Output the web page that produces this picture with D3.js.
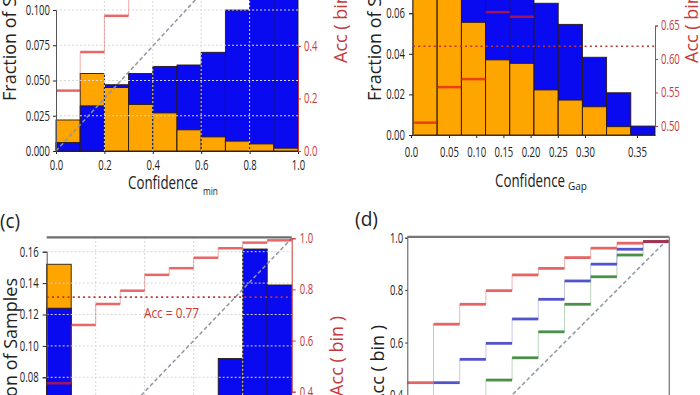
<!DOCTYPE html>
<html><head><meta charset="utf-8">
<script src="https://cdn.jsdelivr.net/npm/d3@7"></script>
<style>body{margin:0;background:#fff}svg{display:block}text{font-family:"Open Sans",sans-serif}</style>
</head><body><svg id="c" width="700" height="395"></svg>
<script>
// ---------- data ----------
const binIndex = [0,1,2,3,4,5,6,7,8,9];

const aXTicks = [0,0.2,0.4,0.6,0.8,1.0];
const aYTicks = [0,0.025,0.05,0.075,0.1,0.125];
const aRTicks = [0,0.2,0.4,0.6];
const aIncorrect = [0.022,0.055,0.045,0.033,0.027,0.015,0.010,0.007,0.005,0.002];
const aCorrect   = [0.006,0.032,0.047,0.055,0.060,0.061,0.070,0.100,0.118,0.125];
const aAcc       = [0.23,0.377,0.515,0.64,0.72,0.78,0.83,0.88,0.93,0.97];

const bXTickValues = [0,0.05,0.10,0.15,0.20,0.25,0.30,0.35];
const bXTickLabels = ["0.0","0.05","0.10","0.15","0.20","0.25","0.30","0.35"];
const bYTicks = [0,0.02,0.04,0.06,0.08];
const bRTicks = [0.50,0.55,0.60,0.65,0.70];
const bIncorrect = [0.075,0.072,0.0555,0.037,0.0353,0.0222,0.0172,0.0139,0.0041,0.0];
const bCorrect   = [0.085,0.080,0.078,0.075,0.070,0.0649,0.0545,0.0383,0.0208,0.0044];
const bAcc       = [0.505,0.558,0.570,0.670,0.663,0.70,0.72,0.74,0.76,0.78];
const bMeanAcc = 0.619;

const cYTicks = [0,0.02,0.04,0.06,0.08,0.10,0.12,0.14,0.16];
const cRTicks = [0,0.2,0.4,0.6,0.8,1.0];
const cXTicks = [0.2,0.4,0.6,0.8];
const cIncorrect = [0.152,0.020,0.015,0.012,0.010,0.008,0.006,0.005,0.003,0.001];
const cCorrect   = [0.124,0.040,0.035,0.040,0.045,0.050,0.060,0.092,0.1617,0.1388];
const cAcc       = [0.433,0.661,0.743,0.795,0.857,0.883,0.924,0.961,0.983,0.992];
const cMeanAcc = 0.77;

const dYTicks = [0,0.2,0.4,0.6,0.8,1.0];
const dAccRed   = [0.447,0.670,0.746,0.798,0.858,0.883,0.924,0.960,0.979,0.985];
const dAccBlue  = [0.36,0.447,0.536,0.597,0.690,0.765,0.835,0.899,0.956,0.985];
const dAccGreen = [0.20,0.28,0.36,0.457,0.542,0.641,0.746,0.851,0.934,0.985];

// ---------- styles ----------
const ORANGE = "#ffa500", BLUE = "#0a0af0";
const RED_TXT = "#c8393a";
const STEP_RED = "rgba(222,30,30,0.68)", STEP_RED_V = "rgba(225,80,80,0.45)";
const SQ = 0.68;

const svg = d3.select("#c");

function squish(sel, s){
  sel.each(function(){
    const t = d3.select(this);
    const x = +t.attr("x") || 0;
    t.attr("x", x / s).attr("transform", `scale(${s},1)`);
  });
}
function styleAxis(g, color, fs){
  g.selectAll("text").attr("fill", color).style("font-size", fs + "px");
  g.selectAll("line").attr("stroke", color);
  g.select(".domain").attr("stroke", color);
  squish(g.selectAll("text"), SQ);
}
function hText(x, y, str, size, color, len, anchor){
  const t = svg.append("text").attr("x", x).attr("y", y).text(str)
    .attr("fill", color).style("font-size", size + "px");
  if (len) t.attr("textLength", len).attr("lengthAdjust", "spacingAndGlyphs");
  if (anchor) t.attr("text-anchor", anchor);
  return t;
}
function vText(x, y, str, size, color, anchor){
  return svg.append("text").attr("transform", `translate(${x},${y}) rotate(-90)`)
    .attr("text-anchor", anchor).text(str).attr("fill", color).style("font-size", size + "px");
}
function overlapBars(g, edge, y, inc, cor){
  const rects = [];
  binIndex.forEach(i => {
    const pair = [{v: inc[i], c: ORANGE, i}, {v: cor[i], c: BLUE, i}].sort((a,b) => b.v - a.v);
    rects.push(...pair);
  });
  g.selectAll(null).data(rects.filter(d => d.v > 0)).join("rect")
    .attr("x", d => edge(d.i)).attr("width", d => edge(d.i + 1) - edge(d.i))
    .attr("y", d => y(d.v)).attr("height", d => y(0) - y(d.v))
    .attr("fill", d => d.c).attr("stroke", "#2a1a10").attr("stroke-width", 0.9);
}
function steps(g, edge, y, acc, color, vcolor, w){
  g.selectAll(null).data(acc).join("line")
    .attr("x1", (d,i) => edge(i)).attr("x2", (d,i) => edge(i + 1))
    .attr("y1", d => y(d)).attr("y2", d => y(d))
    .attr("stroke", color).attr("stroke-width", w);
  if (vcolor) g.selectAll(null).data(acc.slice(1)).join("line")
    .attr("x1", (d,i) => edge(i + 1)).attr("x2", (d,i) => edge(i + 1))
    .attr("y1", (d,i) => y(acc[i])).attr("y2", d => y(d))
    .attr("stroke", vcolor).attr("stroke-width", 1);
}
function diag(g, x, y){
  g.append("line").attr("x1", x(0)).attr("y1", y(0)).attr("x2", x(1)).attr("y2", y(1))
    .attr("stroke", "#8d96a3").attr("stroke-width", 1.5).attr("stroke-dasharray", "4,2.5");
}

// ================= Panel (a) =================
{
  const x = d3.scaleLinear().domain([0,1]).range([56,298]);
  const yL = d3.scaleLinear().domain([0,0.1]).range([151,10]);
  const yR = d3.scaleLinear().domain([0,0.4]).range([151,46]);
  const edge = k => x(k / 10);
  const g = svg.append("g");
  overlapBars(g, edge, yL, aIncorrect, aCorrect);
  // grid
  g.selectAll(null).data(aYTicks.slice(1)).join("line")
    .attr("x1", x(0)).attr("x2", x(1)).attr("y1", d => yL(d)).attr("y2", d => yL(d))
    .attr("stroke", "#d8d8d8").attr("stroke-dasharray", "2,2");
  g.selectAll(null).data(aXTicks.slice(1,-1)).join("line")
    .attr("x1", d => x(d)).attr("x2", d => x(d)).attr("y1", yL(0)).attr("y2", yL(0.13))
    .attr("stroke", "#d8d8d8").attr("stroke-dasharray", "2,2");
  diag(g, x, yR);
  steps(g, edge, yR, aAcc, STEP_RED, STEP_RED_V, 2.5);
  const ax = svg.append("g").attr("transform", `translate(0,${yL(0)})`)
    .call(d3.axisBottom(x).tickValues(aXTicks).tickFormat(d3.format(".1f")).tickSize(3).tickPadding(6));
  styleAxis(ax, "#222", 14);
  const al = svg.append("g").attr("transform", `translate(${x(0)},0)`)
    .call(d3.axisLeft(yL).tickValues(aYTicks).tickFormat(d3.format(".3f")).tickSize(3).tickPadding(3));
  styleAxis(al, "#222", 14); al.select(".domain").attr("stroke", "#555");
  const ar = svg.append("g").attr("transform", `translate(${x(1)},0)`)
    .call(d3.axisRight(yR).tickValues(aRTicks).tickFormat(d3.format(".1f")).tickSize(3).tickPadding(3));
  styleAxis(ar, RED_TXT, 14);
  hText(128, 189, "Confidence", 18, "#222", 70);
  hText(203, 195, "min", 10, "#222", 15);
  vText(16, 101, "Fraction of Samples", 18, "#222", "start");
  vText(347, 63, "Acc ( bin )", 18, RED_TXT, "start");
}

// ================= Panel (b) =================
{
  const xB = d3.scaleLinear().domain([0,10]).range([413,655]);
  const xT = d3.scaleLinear().domain([0,0.05,0.30,0.35]).range([411,449,585,637]);
  const yL = d3.scaleLinear().domain([0,0.06]).range([135,13.2]);
  const yR = d3.scaleLinear().domain([0.5,0.65]).range([126,25.5]);
  const edge = k => xB(k);
  const g = svg.append("g");
  overlapBars(g, edge, yL, bIncorrect, bCorrect);
  steps(g, edge, yR, bAcc, "rgba(225,25,25,0.72)", null, 2.5);
  g.append("line").attr("x1", xB(0)).attr("x2", xB(10)).attr("y1", yR(bMeanAcc)).attr("y2", yR(bMeanAcc))
    .attr("stroke", "#c23333").attr("stroke-width", 1.6).attr("stroke-dasharray", "2,3.2");
  const ab = svg.append("g").attr("transform", `translate(0,${yL(0)})`)
    .call(d3.axisBottom(xT).tickValues(bXTickValues).tickFormat((d,i) => bXTickLabels[i]).tickSize(3).tickPadding(9));
  ab.select(".domain").remove();
  styleAxis(ab, "#222", 14);
  svg.append("g").attr("transform", `translate(0,${yL(0)})`)
    .call(d3.axisBottom(xB).tickValues([]).tickSizeOuter(0))
    .select(".domain").attr("stroke", "#333");
  const al = svg.append("g").attr("transform", `translate(${xB(0)},0)`)
    .call(d3.axisLeft(yL).tickValues(bYTicks).tickFormat(d3.format(".2f")).tickSize(4).tickPadding(4));
  styleAxis(al, "#222", 14); al.select(".domain").attr("stroke", "#555");
  const ar = svg.append("g").attr("transform", `translate(${xB(10)},0)`)
    .call(d3.axisRight(yR).tickValues(bRTicks).tickFormat(d3.format(".2f")).tickSize(3).tickPadding(3));
  styleAxis(ar, RED_TXT, 14);
  hText(495, 187, "Confidence", 18, "#222", 70);
  hText(568, 190, "Gap", 10, "#222", 19);
  vText(381, 101, "Fraction of Samples", 18, "#222", "start");
  vText(698, 63, "Acc ( bin )", 18, RED_TXT, "start");
}

// ================= Panel (c) =================
{
  const x = d3.scaleLinear().domain([0,1]).range([46.7,291.7]);
  const yL = d3.scaleLinear().domain([0.08,0.16]).range([377.3,251.7]);
  const yR = d3.scaleLinear().domain([0.4,1.0]).range([391.7,238.3]);
  const edge = k => x(k / 10);
  const top = 237.3;
  const g = svg.append("g");
  overlapBars(g, edge, yL, cIncorrect, cCorrect);
  g.selectAll(null).data(cYTicks.slice(1)).join("line")
    .attr("x1", x(0)).attr("x2", x(1)).attr("y1", d => yL(d)).attr("y2", d => yL(d))
    .attr("stroke", "#d6d6d6").attr("stroke-dasharray", "2,2");
  g.selectAll(null).data(cXTicks).join("line")
    .attr("x1", d => x(d)).attr("x2", d => x(d)).attr("y1", yL(0)).attr("y2", top)
    .attr("stroke", "#d6d6d6").attr("stroke-dasharray", "2,2");
  diag(g, x, yR);
  steps(g, edge, yR, cAcc, STEP_RED, STEP_RED_V, 2.5);
  g.append("line").attr("x1", x(0)).attr("x2", x(1)).attr("y1", yR(cMeanAcc)).attr("y2", yR(cMeanAcc))
    .attr("stroke", "#c23333").attr("stroke-width", 1.6).attr("stroke-dasharray", "2,3.2");
  hText(144, 318, "Acc = " + cMeanAcc.toFixed(2), 14, "#c8393a", 55);
  svg.append("line").attr("x1", x(0)).attr("x2", x(1)).attr("y1", top).attr("y2", top)
    .attr("stroke", "#6d6d6d").attr("stroke-width", 2.2);
  const al = svg.append("g").attr("transform", `translate(${x(0)},0)`)
    .call(d3.axisLeft(yL).tickValues(cYTicks).tickFormat(d3.format(".2f")).tickSize(4).tickPadding(4));
  styleAxis(al, "#222", 14); al.select(".domain").attr("stroke", "#555");
  const ar = svg.append("g").attr("transform", `translate(${x(1)},0)`)
    .call(d3.axisRight(yR).tickValues(cRTicks).tickFormat(d3.format(".1f")).tickSize(4).tickPadding(4));
  styleAxis(ar, RED_TXT, 14);
  hText(0, 228, "(c)", 20, "#222", 20);
  vText(17, 278, "Fraction of Samples", 18, "#222", "end");
  vText(343, 316, "Acc ( bin )", 18, RED_TXT, "end");
}

// ================= Panel (d) =================
{
  const x = d3.scaleLinear().domain([0,1]).range([407.3,669.3]);
  const y = d3.scaleLinear().domain([0.4,1.0]).range([395,237.7]);
  const edge = k => x(k / 10);
  const g = svg.append("g");
  diag(g, x, y);
  steps(g, edge, y, dAccGreen, "rgba(30,115,30,0.8)", "rgba(60,140,60,0.35)", 2.8);
  steps(g, edge, y, dAccBlue, "rgba(40,40,190,0.8)", "rgba(70,70,200,0.3)", 2.8);
  steps(g, edge, y, dAccRed, "rgba(222,40,40,0.72)", "rgba(225,90,90,0.45)", 2.8);
  svg.append("line").attr("x1", x(0)).attr("x2", x(1)).attr("y1", 236.8).attr("y2", 236.8)
    .attr("stroke", "#777").attr("stroke-width", 2.2);
  svg.append("line").attr("x1", x(1)).attr("x2", x(1)).attr("y1", 236.8).attr("y2", 395)
    .attr("stroke", "#888").attr("stroke-width", 1.5);
  const al = svg.append("g").attr("transform", `translate(${x(0)},0)`)
    .call(d3.axisLeft(y).tickValues(dYTicks).tickFormat(d3.format(".1f")).tickSize(2).tickPadding(2));
  styleAxis(al, "#222", 14); al.select(".domain").attr("stroke", "#555");
  hText(355, 226, "(d)", 20, "#222", 23);
  vText(384, 325, "Acc ( bin )", 18, "#222", "end");
}
</script></body></html>
